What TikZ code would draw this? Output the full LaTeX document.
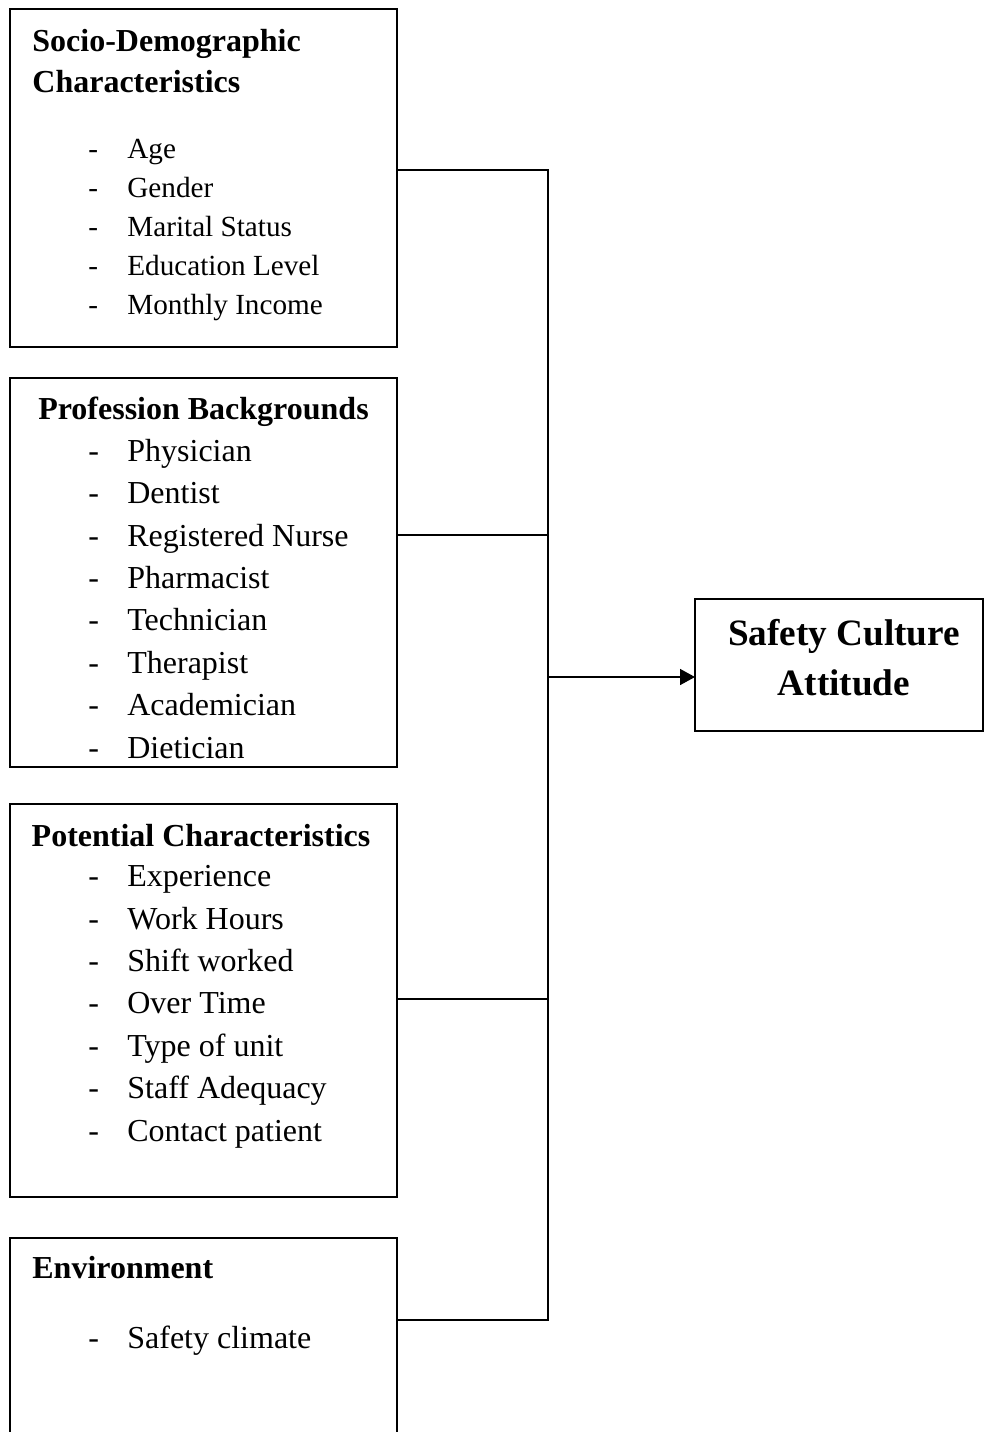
\documentclass[tikz,border=0pt]{standalone}
\usepackage{fontspec}
\setmainfont{Liberation Serif}
\usepackage{tikz}
\usetikzlibrary{arrows.meta}

\newcommand{\itemdash}{\makebox[19.5pt][l]{-}}

\begin{document}
\begin{tikzpicture}[x=0.5pt, y=-0.5pt,
    factorbox/.style={draw, rectangle, line width=1pt, minimum width=193.5pt, inner sep=0pt, outer sep=0pt},
    header/.style={font=\fontsize{16}{20.5}\selectfont\bfseries, inner sep=0pt, align=left},
    itemlist/.style={font=\fontsize{16}{21.2}\selectfont, inner sep=0pt, anchor=base west, align=left},
    link/.style={line width=0.8pt}]
    \useasboundingbox (0,0) rectangle (984,1432);

    % Socio-demographic box (multi-line text sits on its last baseline)
    \node[factorbox, minimum height=169pt] (socio) at (203.5,178) {};
    \node[header, anchor=base west] (socio-label) at (32,92) {Socio-Demographic\\Characteristics};
    \node[itemlist, font=\fontsize{14.6}{19.4}\selectfont] (socio-list) at (88,314)
        {\itemdash Age\\ \itemdash Gender\\ \itemdash Marital Status\\ \itemdash Education Level\\ \itemdash Monthly Income};

    % Profession box
    \node[factorbox, minimum height=194.5pt] (prof) at (203.5,572.5) {};
    \node[header, anchor=base] (prof-label) at (203.5,419) {Profession Backgrounds};
    \node[itemlist] (prof-list) at (88,758)
        {\itemdash Physician\\ \itemdash Dentist\\ \itemdash Registered Nurse\\ \itemdash Pharmacist\\
         \itemdash Technician\\ \itemdash Therapist\\ \itemdash Academician\\ \itemdash Dietician};

    % Potential characteristics box
    \node[factorbox, minimum height=196.5pt] (potential) at (203.5,1000.5) {};
    \node[header, anchor=base] (potential-label) at (201,846) {Potential Characteristics};
    \node[itemlist] (potential-list) at (88,1141)
        {\itemdash Experience\\ \itemdash Work Hours\\ \itemdash Shift worked\\ \itemdash Over Time\\
         \itemdash Type of unit\\ \itemdash Staff Adequacy\\ \itemdash Contact patient};

    % Environment box
    \node[factorbox, minimum height=104pt] (env) at (203.5,1342) {};
    \node[header, anchor=base west] (env-label) at (32,1278) {Environment};
    \node[itemlist] (env-list) at (88,1348) {\itemdash Safety climate};

    % Outcome
    \node[draw, rectangle, line width=1pt, minimum width=144pt, minimum height=66pt, inner sep=0pt, outer sep=0pt] (outcome) at (839,665) {};
    \node[anchor=base, align=center, inner sep=0pt, font=\fontsize{18.6}{25}\selectfont\bfseries] (outcome-label) at (844,695) {Safety Culture\\Attitude};

    % Connectors
    \coordinate (bus-top) at (548,170);
    \coordinate (bus-prof) at (548,535);
    \coordinate (bus-mid) at (548,677);
    \coordinate (bus-potential) at (548,999);
    \coordinate (bus-bottom) at (548,1320);
    \draw[link] (socio.east |- bus-top) -- (bus-top) -- (bus-bottom) -- (env.east |- bus-bottom);
    \draw[link] (prof.east |- bus-prof) -- (bus-prof);
    \draw[link] (potential.east |- bus-potential) -- (bus-potential);
    \draw[link, -{Triangle[length=7.5pt, width=8pt]}] (bus-mid) -- (outcome.west |- bus-mid);
\end{tikzpicture}
\end{document}
